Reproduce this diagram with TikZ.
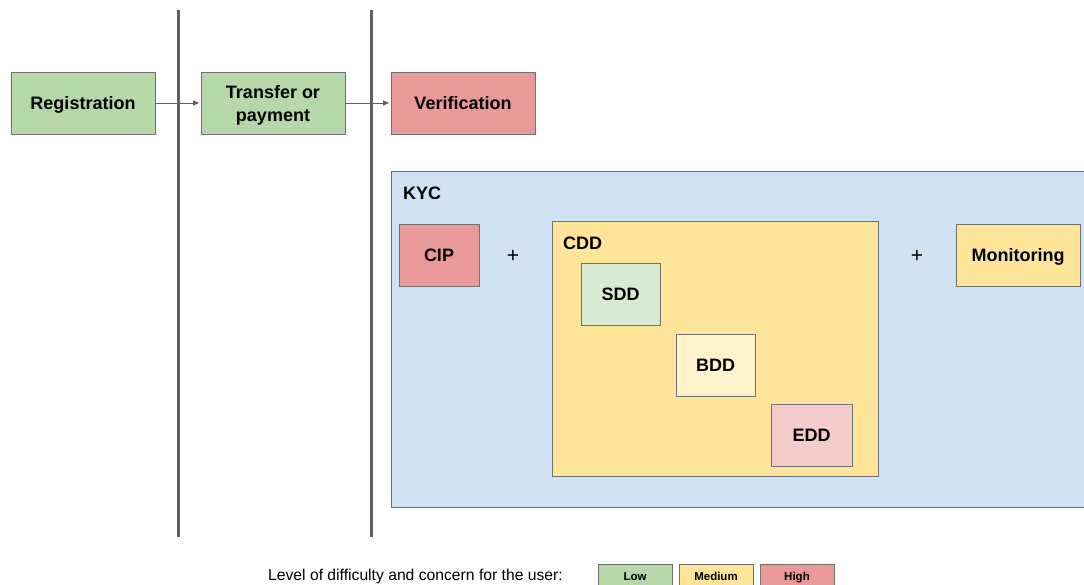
\documentclass[tikz,border=0pt]{standalone}
\usepackage{fontspec}
\setmainfont{Liberation Sans}
\usetikzlibrary{arrows.meta}

\definecolor{cgreen}{HTML}{B6D7A8}
\definecolor{cred}{HTML}{EA9999}
\definecolor{cblue}{HTML}{CFE2F3}
\definecolor{cyellow}{HTML}{FFE599}
\definecolor{clgreen}{HTML}{D9EAD3}
\definecolor{clyellow}{HTML}{FFF2CC}
\definecolor{cpink}{HTML}{F4CCCC}
\definecolor{cedge}{HTML}{707070}
\definecolor{cbar}{HTML}{5F5F5F}

\tikzset{
  box/.style={draw=cedge, line width=0.9pt, inner sep=0pt, align=center,
    text height=13pt, text depth=0pt,
    font=\fontsize{18}{23}\selectfont\bfseries},
  stage/.style={box, minimum width=144pt, minimum height=62pt},
  small/.style={box, minimum width=80pt, minimum height=62pt},
  legbox/.style={draw=cedge, line width=0.9pt, inner sep=0pt,
    minimum width=74pt, minimum height=24pt,
    text height=8.3pt, text depth=0pt,
    font=\fontsize{11.5}{13}\selectfont\bfseries},
  lane/.style={draw=cbar, line width=3pt},
  flow/.style={draw=cbar, line width=0.8pt, -{Triangle[length=6pt,width=5pt]}, shorten >=1.5pt},
  tag/.style={anchor=west, inner sep=0pt, font=\fontsize{18}{22}\selectfont\bfseries},
  plus/.style={inner sep=0pt, font=\fontsize{21}{24}\selectfont}
}

\begin{document}
\begin{tikzpicture}[x=1pt, y=-1pt]
\useasboundingbox (0,0) rectangle (1084,585);

% lane separators
\coordinate (l1top) at (178,10);
\coordinate (l1bot) at (178,537);
\coordinate (l2top) at (371,10);
\coordinate (l2bot) at (371,537);
\draw[lane] (l1top) -- (l1bot);
\draw[lane] (l2top) -- (l2bot);

% process stages
\node[stage, fill=cgreen] (reg) at (83,103) {Registration};
\node[stage, fill=cgreen, text height=] (tra) at (273,103) {Transfer or\\payment};
\node[stage, fill=cred] (ver) at (463,103) {Verification};
\draw[flow] (reg) -- (tra);
\draw[flow] (tra) -- (ver);

% KYC area
\node[draw=cedge, line width=0.9pt, fill=cblue, minimum width=729pt,
  minimum height=336pt, inner sep=0pt] (kyc) at (755.5,339) {};
\node[tag] (kyclbl) at (403,193) {KYC};

\node[small, fill=cred] (cip) at (439,255) {CIP};
\node[plus] (plus1) at (513,256) {+};

\node[draw=cedge, line width=0.9pt, fill=cyellow, minimum width=326pt,
  minimum height=255pt, inner sep=0pt] (cdd) at (715,348.5) {};
\node[tag] (cddlbl) at (563,243) {CDD};

\node[box, fill=clgreen, minimum width=79pt, minimum height=62pt] (sdd) at (620.5,294) {SDD};
\node[box, fill=clyellow, minimum width=79pt, minimum height=62pt] (bdd) at (715.5,365) {BDD};
\node[box, fill=cpink, minimum width=81pt, minimum height=62pt] (edd) at (811.5,435) {EDD};

\node[plus] (plus2) at (917,256) {+};
\node[box, fill=cyellow, minimum width=124pt, minimum height=62pt] (mon) at (1018,255) {Monitoring};

% legend
\node[inner sep=0pt, font=\fontsize{15.7}{18}\selectfont] (legtxt) at (415.5,576) {Level of difficulty and concern for the user:};
\node[legbox, fill=cgreen] (low) at (635,576) {Low};
\node[legbox, fill=cyellow] (med) at (716,576) {Medium};
\node[legbox, fill=cred] (high) at (797,576) {High};
\end{tikzpicture}
\end{document}
